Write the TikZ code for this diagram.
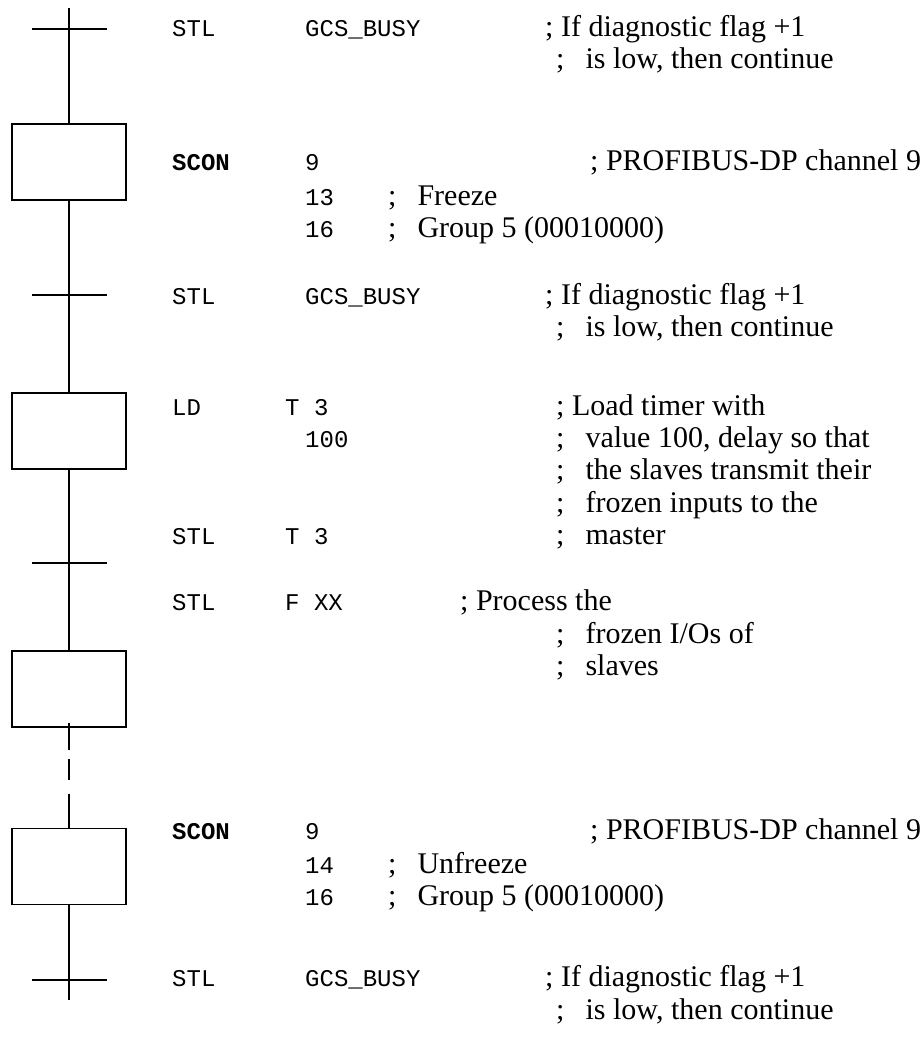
\documentclass[tikz,border=0pt]{standalone}
\usepackage{fontspec}
\setmainfont{Liberation Serif}
\setmonofont{Liberation Mono}
\usetikzlibrary{positioning}

\tikzset{
    stepbox/.style={draw, rectangle, line width=1.2pt, minimum width=114pt, minimum height=76pt, inner sep=0pt},
    flow/.style={line width=1.2pt},
    code/.style={anchor=base west, yshift=-7pt, inner sep=0pt, font=\fontsize{24}{28}\selectfont\ttfamily},
    codebf/.style={code, font=\fontsize{24}{28}\selectfont\ttfamily\bfseries},
    cmt/.style={anchor=base west, yshift=-7pt, inner sep=0pt, font=\fontsize{30}{34}\selectfont}
}

\begin{document}
\begin{tikzpicture}[x=1pt,y=-1pt]
    \useasboundingbox (0,0) rectangle (923,1037);

    % text columns
    \pgfmathsetmacro{\colA}{172}
    \pgfmathsetmacro{\colB}{305}
    \pgfmathsetmacro{\colT}{285}
    \pgfmathsetmacro{\colC}{556}

    % chain: steps and transitions
    \coordinate (top) at (69,8);
    \coordinate (trA) at (69,29);
    \coordinate (trB) at (69,295);
    \coordinate (trC) at (69,563);
    \coordinate (trD) at (69,980);
    \coordinate (bottom) at (69,1000);

    \node[stepbox] (stepA) at (69,162) {};
    \node[stepbox] (stepB) at (69,431) {};
    \node[stepbox] (stepC) at (69,689) {};
    \node[stepbox] (stepD) at (69,866.5) {};

    \draw[flow] (top) -- (stepA.north);
    \draw[flow] (stepA.south) -- (stepB.north);
    \draw[flow] (stepB.south) -- (stepC.north);
    \draw[flow,dash pattern=on 27pt off 9pt on 21pt off 14pt on 60pt] ([yshift=5pt]stepC.south) -- (stepD.north);
    \draw[flow] (stepD.south) -- (bottom);

    \foreach \t in {trA,trB,trC,trD}
        \draw[flow] (\t) ++(-37,0) -- ++(75,0);

    % program listing
    \node[code] (stlA) at (\colA,29) {STL};
    \node[code] (gcsA) at (\colB,29) {GCS\_BUSY};
    \node[cmt] (ifA) at (545,29) {; If diagnostic flag +1};
    \node[cmt] (lowA) at (\colC,61) {;\hspace{21pt}is low, then continue};

    \node[codebf] (sconA) at (\colA,163) {SCON};
    \node[code] (chA) at (\colB,163) {9};
    \node[cmt] (profA) at (590,163) {; PROFIBUS-DP channel 9};
    \node[code] (frz) at (\colB,198) {13};
    \node[cmt] (frzc) at (388,198) {;\hspace{21pt}Freeze};
    \node[code] (grpA) at (\colB,230) {16};
    \node[cmt] (grpAc) at (388,230) {;\hspace{21pt}Group 5 (00010000)};

    \node[code] (stlB) at (\colA,297) {STL};
    \node[code] (gcsB) at (\colB,297) {GCS\_BUSY};
    \node[cmt] (ifB) at (545,297) {; If diagnostic flag +1};
    \node[cmt] (lowB) at (\colC,329) {;\hspace{21pt}is low, then continue};

    \node[code] (ld) at (\colA,408) {LD};
    \node[code] (tmA) at (\colT,408) {T 3};
    \node[cmt] (load) at (\colC,408) {; Load timer with};
    \node[code] (val) at (\colB,440) {100};
    \node[cmt] (valc) at (\colC,440) {;\hspace{21pt}value 100, delay so that};
    \node[cmt] (slv) at (\colC,472) {;\hspace{21pt}the slaves transmit their};
    \node[cmt] (inp) at (\colC,505) {;\hspace{21pt}frozen inputs to the};
    \node[code] (stlT) at (\colA,537) {STL};
    \node[code] (tmB) at (\colT,537) {T 3};
    \node[cmt] (mst) at (\colC,537) {;\hspace{21pt}master};

    \node[code] (stlF) at (\colA,603) {STL};
    \node[code] (flg) at (\colT,603) {F XX};
    \node[cmt] (proc) at (460,603) {; Process the};
    \node[cmt] (ios) at (\colC,636) {;\hspace{21pt}frozen I/Os of};
    \node[cmt] (slvB) at (\colC,668) {;\hspace{21pt}slaves};

    \node[codebf] (sconB) at (\colA,832) {SCON};
    \node[code] (chB) at (\colB,832) {9};
    \node[cmt] (profB) at (590,832) {; PROFIBUS-DP channel 9};
    \node[code] (ufr) at (\colB,866) {14};
    \node[cmt] (ufrc) at (388,866) {;\hspace{21pt}Unfreeze};
    \node[code] (grpB) at (\colB,898) {16};
    \node[cmt] (grpBc) at (388,898) {;\hspace{21pt}Group 5 (00010000)};

    \node[code] (stlC) at (\colA,979) {STL};
    \node[code] (gcsC) at (\colB,979) {GCS\_BUSY};
    \node[cmt] (ifC) at (545,979) {; If diagnostic flag +1};
    \node[cmt] (lowC) at (\colC,1012) {;\hspace{21pt}is low, then continue};
\end{tikzpicture}
\end{document}
